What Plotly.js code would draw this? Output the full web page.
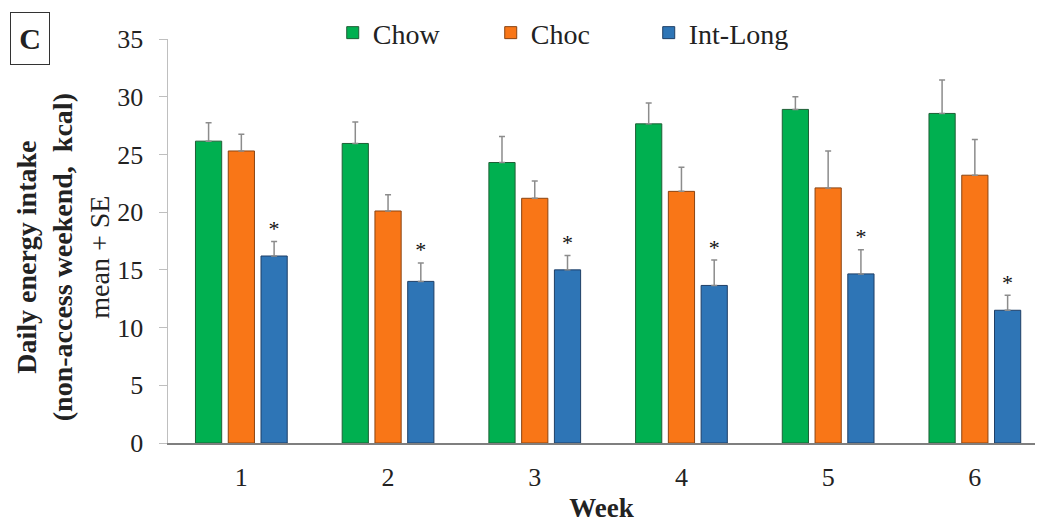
<!DOCTYPE html>
<html><head><meta charset="utf-8">
<script src="https://cdn.plot.ly/plotly-3.0.1.min.js"></script>
<style>body{margin:0;background:#fff}#chart{width:1039px;height:523px}</style>
</head><body><div id="chart"></div>
<script>
const weeks = [1, 2, 3, 4, 5, 6];
const weekLabels = ["1", "2", "3", "4", "5", "6"];
const chowMean = [26.15, 25.95, 24.3, 27.65, 28.9, 28.55];
const chowSE   = [1.6, 1.85, 2.25, 1.8, 1.1, 2.9];
const chocMean = [25.3, 20.1, 21.2, 21.8, 22.1, 23.2];
const chocSE   = [1.45, 1.4, 1.5, 2.1, 3.2, 3.1];
const intMean  = [16.2, 14.0, 15.0, 13.65, 14.65, 11.5];
const intSE    = [1.25, 1.6, 1.25, 2.2, 2.1, 1.3];
const sigMark  = ["*", "*", "*", "*", "*", "*"];
const yTitleLines = ["<b>Daily energy intake</b>", "<b>(non-access weekend,  kcal)</b>", "mean + SE"];

const serif = "Liberation Serif";
const bargap = 0.33;
const slot = (1 - bargap) / 3;

function barTrace(name, mean, se, color, line) {
  return {
    type: "bar", name: name, x: weeks, y: mean,
    marker: {color: color, line: {color: line, width: 1}},
    error_y: {type: "data", array: se, arrayminus: se.map(() => 0), symmetric: false,
              color: "#8c8c8c", thickness: 1.5, width: 3}
  };
}

const traces = [
  barTrace("Chow", chowMean, chowSE, "#00b050", "#1f5f36"),
  barTrace("Choc", chocMean, chocSE, "#f97617", "#8a4412"),
  barTrace("Int-Long", intMean, intSE, "#2e75b6", "#1f3f66"),
  {
    type: "scatter", mode: "text", showlegend: false, hoverinfo: "skip",
    x: weeks.map(w => w + slot), y: intMean.map((m, i) => m + intSE[i]),
    text: sigMark, textposition: "top center",
    textfont: {family: serif, size: 22, color: "#111"}
  }
];

const layout = {
  width: 1039, height: 523,
  margin: {l: 168, r: 4, t: 39, b: 80, pad: 0, autoexpand: false},
  paper_bgcolor: "#fff", plot_bgcolor: "#fff",
  barmode: "group", bargap: bargap, bargroupgap: 0.2,
  font: {family: serif, size: 26, color: "#222"},
  showlegend: true,
  legend: {orientation: "h", x: 0.19, xanchor: "left", y: 1.015, yanchor: "middle",
           font: {family: serif, size: 28, color: "#222"},
           entrywidth: 113, entrywidthmode: "pixels", itemwidth: 30, bgcolor: "rgba(0,0,0,0)"},
  xaxis: {
    type: "linear", range: [0.5, 6.41], tickvals: weeks, ticktext: weekLabels,
    showgrid: false, zeroline: false, showline: true, linecolor: "#7f7f7f", linewidth: 1.5,
    ticks: "", ticklabelstandoff: 10, tickfont: {family: serif, size: 26, color: "#222"},
    title: {text: "<b>Week</b>", font: {family: serif, size: 27, color: "#222"}, standoff: 7}
  },
  yaxis: {
    range: [0, 35], dtick: 5, tick0: 0, showgrid: false, zeroline: false,
    showline: true, linecolor: "#bfbfbf", linewidth: 1.5, ticks: "outside", ticklen: 8,
    tickcolor: "#bfbfbf", ticklabelstandoff: 10, tickfont: {family: serif, size: 26, color: "#222"}
  },
  annotations: [
    {
      text: yTitleLines.join("<br>"), xref: "paper", yref: "paper",
      x: -0.1217, y: 0.461, xanchor: "center", yanchor: "middle", textangle: -90,
      showarrow: false, align: "center", font: {family: serif, size: 28, color: "#222"}
    },
    {
      text: "<b>C</b>", xref: "paper", yref: "paper", x: -0.1822, y: 1.0669,
      xanchor: "left", yanchor: "top", showarrow: false, width: 34, height: 47,
      font: {family: serif, size: 30, color: "#222"},
      bordercolor: "#333", borderwidth: 1, borderpad: 2, bgcolor: "#fff"
    }
  ]
};

Plotly.newPlot("chart", traces, layout, {displayModeBar: false, staticPlot: true});
</script></body></html>
